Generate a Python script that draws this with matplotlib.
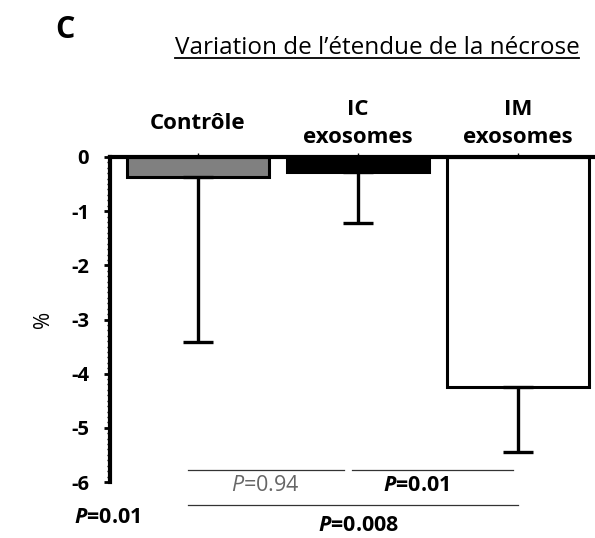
import matplotlib.pyplot as plt
from matplotlib.ticker import MultipleLocator

plt.rcParams['font.family'] = ['Open Sans', 'DejaVu Sans']
plt.rcParams['mathtext.fontset'] = 'custom'
plt.rcParams['mathtext.rm'] = 'Open Sans'
plt.rcParams['mathtext.it'] = 'Open Sans:italic'
plt.rcParams['mathtext.bf'] = 'Open Sans:bold'
plt.rcParams['mathtext.bfit'] = 'Open Sans:italic:bold'

groupes = ['Contrôle', 'IC exosomes', 'IM exosomes']
valeurs = [-0.36, -0.28, -4.24]
erreurs = [3.05, 0.94, 1.20]
couleurs = ['#808080', '#000000', '#ffffff']
yticks = [0, -1, -2, -3, -4, -5, -6]

fig = plt.figure(figsize=(5.95, 5.38), dpi=100)
ax = fig.add_axes([110/595, 1-482/538, 1-110/595, (482-157)/538])

x = list(range(len(groupes)))
ax.bar(x, valeurs, width=0.89, color=couleurs, edgecolor='black', linewidth=2.2,
       yerr=[erreurs, [0]*len(erreurs)], error_kw=dict(elinewidth=2.4, capsize=11, capthick=2.4, ecolor='black'))

ax.set_ylim(-6, 0)
ax.set_xlim(-0.55, 2.48)
ax.set_yticks(yticks)
ax.set_yticklabels([str(t) for t in yticks], fontsize=14.5, fontweight='bold')
ax.yaxis.set_minor_locator(MultipleLocator(0.1))
ax.tick_params(axis='y', which='major', direction='out', length=4, width=2, pad=11)
ax.tick_params(axis='y', which='minor', direction='out', length=2, width=1)

# petites graduations au-dessus de l'axe du haut
ax.xaxis.tick_top()
ax.set_xticks(x)
ax.set_xticklabels([])
ax.tick_params(axis='x', direction='out', length=3, width=1)

for s in ['right', 'bottom']:
    ax.spines[s].set_visible(False)
ax.spines['left'].set_linewidth(3)
ax.spines['top'].set_linewidth(3)

# noms des groupes au-dessus des barres
for i, g in enumerate(groupes):
    mots = g.split(' ')
    if len(mots) == 1:
        ax.text(i, 0.52, mots[0], ha='center', va='baseline', fontsize=16, fontweight='bold')
    else:
        ax.text(i, 0.78, mots[0], ha='center', va='baseline', fontsize=16, fontweight='bold')
        ax.text(i, 0.26, mots[1], ha='center', va='baseline', fontsize=16, fontweight='bold')

ax.set_ylabel('%', fontsize=15, labelpad=12)

# comparaisons sous le graphique
lc = '#333333'
ax.plot([-0.06, 0.91], [-5.78, -5.78], color=lc, lw=0.9, clip_on=False)
ax.plot([0.96, 1.97], [-5.78, -5.78], color=lc, lw=0.9, clip_on=False)
ax.plot([-0.06, 2.0], [-6.42, -6.42], color=lc, lw=0.9, clip_on=False)
ax.text(0.42, -6.07, r'$\mathit{P}$=0.94', ha='center', va='center', fontsize=15.5, color='#666666')
ax.text(1.36, -6.07, r'$\boldsymbol{P}$=0.01', ha='center', va='center', fontsize=15.5, fontweight='bold')
ax.text(1.0, -6.8, r'$\boldsymbol{P}$=0.008', ha='center', va='center', fontsize=15.5, fontweight='bold')
ax.text(-0.57, -6.65, r'$\boldsymbol{P}$=0.01', ha='center', va='center', fontsize=15.5, fontweight='bold')

fig.text(65/595, 1-30/538, 'C', ha='center', va='center', fontsize=22, fontweight='bold')
titre = fig.text(377/595, 1-48/538, "Variation de l’étendue de la nécrose", ha='center', va='center',
                 fontsize=17.5)

# soulignement du titre
fig.canvas.draw()
bb = titre.get_window_extent().transformed(fig.transFigure.inverted())
fig.add_artist(plt.Line2D([bb.x0, bb.x1], [bb.y0 + 0.004, bb.y0 + 0.004], color='black', lw=1.3))

fig.savefig('out.png', dpi=100)
